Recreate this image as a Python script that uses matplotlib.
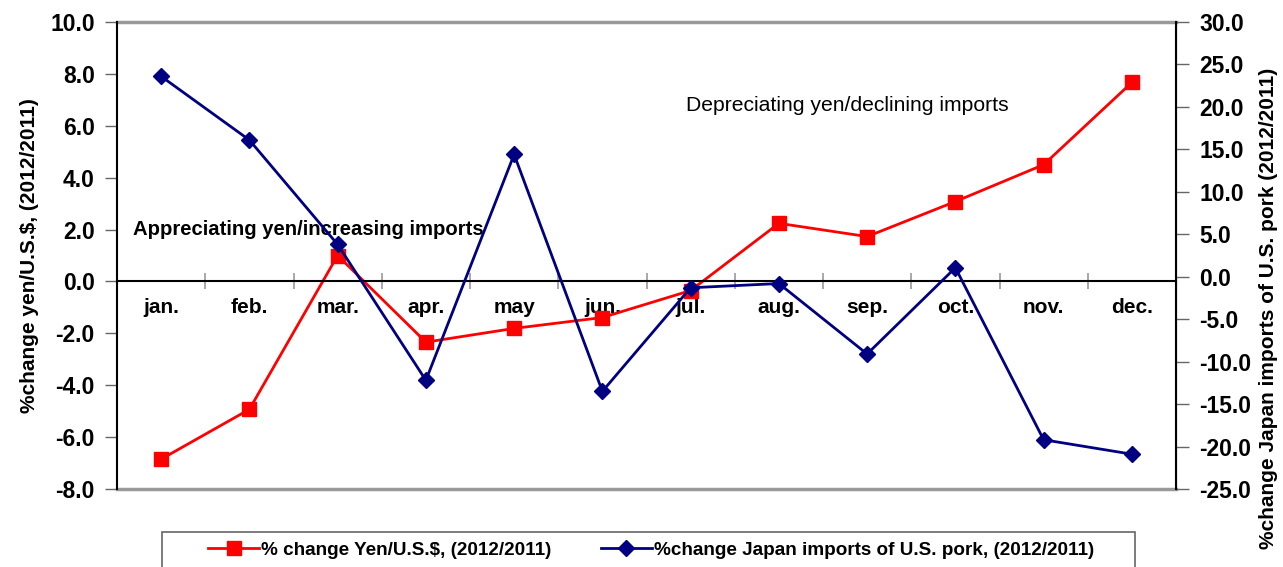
import numpy as np
import matplotlib
matplotlib.use('Agg')
import matplotlib.pyplot as plt
from matplotlib.patches import Rectangle

plt.rcParams['font.family'] = ['Liberation Sans', 'DejaVu Sans']

months = ['jan.', 'feb.', 'mar.', 'apr.', 'may', 'jun.', 'jul.', 'aug.', 'sep.', 'oct.', 'nov.', 'dec.']
yen_change = [-6.85, -4.93, 1.0, -2.34, -1.81, -1.39, -0.35, 2.24, 1.73, 3.08, 4.5, 7.67]
pork_change = [23.6, 16.1, 3.8, -12.2, 14.4, -13.5, -1.3, -0.8, -9.1, 1.06, -19.2, -20.9]

yen_label = '% change Yen/U.S.$, (2012/2011)'
pork_label = '%change Japan imports of U.S. pork, (2012/2011)'

W, H = 1283, 567
fig = plt.figure(figsize=(W / 100, H / 100), dpi=100)
ax = fig.add_axes([117 / W, 1 - 489 / H, (1176 - 117) / W, (489 - 22) / H])
ax2 = ax.twinx()

x = np.arange(len(months)) + 0.5
red, navy = '#FF0000', '#000080'

l1, = ax.plot(x, yen_change, color=red, lw=2, marker='s', ms=10, label=yen_label)
l2, = ax2.plot(x, pork_change, color=navy, lw=2, marker='D', ms=8, label=pork_label)

ax.set_xlim(0, 12)
ax.set_ylim(-8, 10)
ax2.set_ylim(-25, 30)
ax.set_yticks(np.arange(-8, 10.1, 2))
ax2.set_yticks(np.arange(-25, 30.1, 5))
ax.set_yticklabels(['%.1f' % v for v in np.arange(-8, 10.1, 2)])
ax2.set_yticklabels(['%.1f' % v for v in np.arange(-25, 30.1, 5)])

# x axis sits on the zero line, labels at category centres
ax.spines['bottom'].set_position(('data', 0))
ax.spines['bottom'].set_linewidth(1.5)
ax.set_xticks(np.arange(0, 13))
ax.set_xticklabels([])
ax.set_xticks(x, minor=True)
ax.set_xticklabels(months, minor=True, fontweight='bold', fontsize=15)
ax.tick_params(axis='x', which='major', direction='inout', length=11, color='#999999', width=1.2)
ax.tick_params(axis='x', which='minor', length=0, pad=12)

for a in (ax, ax2):
    a.spines['top'].set_visible(False)
ax2.spines['bottom'].set_visible(False)
ax.spines['left'].set_linewidth(1.5)
ax2.spines['right'].set_linewidth(1.5)
ax2.spines['left'].set_visible(False)
ax.axhline(10, color='#999999', lw=2.5, clip_on=False)
ax.axhline(-8, color='#999999', lw=2.5, clip_on=False)

ax.tick_params(axis='y', direction='out', length=9, width=1, color='#666666', labelsize=16.5, pad=7)
ax2.tick_params(axis='y', direction='out', length=9, width=1, color='#666666', labelsize=16.5, pad=8)
for t in ax.get_yticklabels() + ax2.get_yticklabels():
    t.set_fontweight('bold')

ax.set_ylabel('%change yen/U.S.$, (2012/2011)', fontsize=15, fontweight='bold', labelpad=8)
fig.text(1269 / W, 1 - 308 / H, '%change Japan imports of U.S. pork (2012/2011)', fontsize=15,
         fontweight='bold', rotation=90, ha='center', va='center')

ax.text(0.18, 2.0, 'Appreciating yen/increasing imports', fontsize=14.6, fontweight='bold',
        va='center', ha='left')
ax.text(6.45, 6.8, 'Depreciating yen/declining imports', fontsize=15.2, va='center', ha='left')

# legend box running off the bottom edge
fig.patches.append(Rectangle((162 / W, -0.02), (1135 - 162) / W, 0.02 + 1 - 532 / H,
                             transform=fig.transFigure, fill=False, ec='#666666', lw=1.2))
fig.legend([l1, l2], [yen_label, pork_label], loc='center', ncol=2,
           bbox_to_anchor=(651 / W, 1 - 550 / H), frameon=False,
           prop={'weight': 'bold', 'size': 13.6}, handlelength=2.7, columnspacing=2.6,
           handletextpad=0.1)

fig.savefig('out.png', dpi=100)
